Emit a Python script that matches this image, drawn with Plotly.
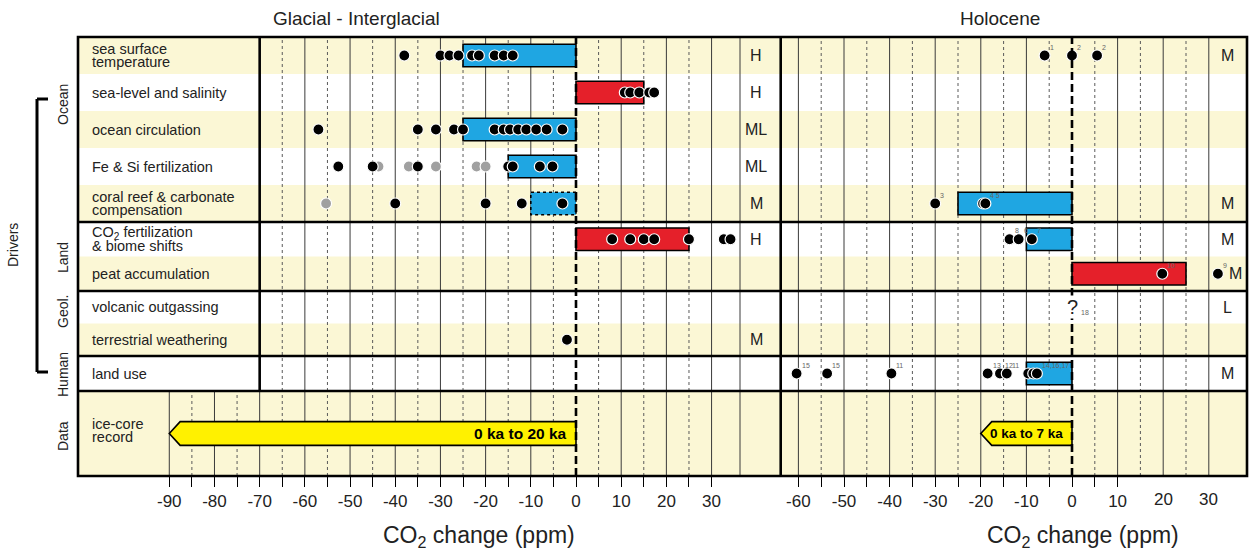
import plotly.graph_objects as go

W, H = 1249, 554
FONT = "Liberation Sans, Arial, Helvetica, sans-serif"

# ---------------- data ----------------
rows = ["sea surface temperature", "sea-level and salinity", "ocean circulation",
        "Fe & Si fertilization", "coral reef & carbonate compensation",
        "CO2 fertilization & biome shifts", "peat accumulation",
        "volcanic outgassing", "terrestrial weathering", "land use"]
row_text = [["sea surface", "temperature"], ["sea-level and salinity"], ["ocean circulation"],
            ["Fe & Si fertilization"], ["coral reef & carbonate", "compensation"],
            ["CO<sub>2</sub> fertilization", "& biome shifts"], ["peat accumulation"],
            ["volcanic outgassing"], ["terrestrial weathering"], ["land use"]]
row_group = ["Ocean"] * 5 + ["Land"] * 2 + ["Geol."] * 2 + ["Human"]
group_names = ["Ocean", "Land", "Geol.", "Human"]

# Glacial - Interglacial
gi_bar_rows = ["sea surface temperature", "sea-level and salinity", "ocean circulation",
               "Fe & Si fertilization", "coral reef & carbonate compensation",
               "CO2 fertilization & biome shifts"]
gi_bar_vals = [-25, 15, -25, -15, -10, 25]
gi_bar_dashed = [False, False, False, False, True, False]

gi_black = {
    "sea surface temperature": [-38, -30, -28, -26, -23, -21.5, -18, -16, -14],
    "sea-level and salinity": [10.8, 12, 14, 16.2, 17.3],
    "ocean circulation": [-57, -35, -31, -27, -25, -18, -16, -14.6, -12.8, -11, -8.8, -6.5, -3],
    "Fe & Si fertilization": [-52.6, -45, -35, -15, -14, -8, -5.2],
    "coral reef & carbonate compensation": [-40, -20, -12, -3],
    "CO2 fertilization & biome shifts": [8, 12, 15, 17.3, 25, 32.7, 34.2],
    "terrestrial weathering": [-2],
}
gi_grey = {
    "Fe & Si fertilization": [-43.7, -37, -31, -22, -20],
    "coral reef & carbonate compensation": [-55.3],
}
gi_conf = ["H", "H", "ML", "ML", "M", "H", "", "", "M", ""]

# Holocene
hol_bar_rows = ["coral reef & carbonate compensation", "CO2 fertilization & biome shifts",
                "peat accumulation", "land use"]
hol_bar_vals = [-25, -10, 25, -10]
hol_pts = {
    "sea surface temperature": ([-6, 0, 5.5], ["1", "2", "2"]),
    "coral reef & carbonate compensation": ([-30, -19.5, -19], ["3", "", "4 5"]),
    "CO2 fertilization & biome shifts": ([-13.7, -11.7, -8.8], ["8", "6", "7"]),
    "peat accumulation": ([19.8, 32], ["10", "9"]),
    "land use": ([-60.4, -53.7, -39.6, -18.5, -15.8, -14.3, -9.6, -8.5, -7.7],
                 ["15", "15", "11", "13", "12", "11", "", "", "14,16,17"]),
}
hol_unknown = {"volcanic outgassing": "18"}
hol_conf = ["M", "", "", "", "M", "M", "M", "L", "", "M"]

# ice-core record
ice_vals = [-90, -20]
ice_text = ["0 ka to 20 ka", "0 ka to 7 ka"]

left_ticks = list(range(-90, 31, 5))
right_ticks = list(range(-60, 11, 5))
right_extra_labels = [20, 30]

# ---------------- geometry / styles ----------------
def px(xp):
    return xp / W

def py(yp):
    return 1 - yp / H

L0, LS = 576.0, 4.519      # left panel: pixel of 0 ppm, px per ppm
R0, RS = 1072.0, 4.56      # right panel
FX0, FX1, MIDX = 78.0, 1247.0, 780.7
TOP, BOT = 37.0, 476.0
grp_px = {"Ocean": (37, 222), "Land": (222, 291), "Geol.": (291, 356), "Human": (356, 391)}
DATA_PX = (391, 476)
yax = {"Ocean": "y", "Land": "y2", "Geol.": "y3", "Human": "y4"}
YELLOW = "#FBF7D5"
BLUE = "#1FA6E2"
RED = "#E5202A"
BAR_PX = 22.5
TXT = "#222"
TICKFS = 17

def row_pos(r):
    g = row_group[rows.index(r)]
    members = [rr for rr, gg in zip(rows, row_group) if gg == g]
    return yax[g], members.index(r), g

def bar_w(g):
    n = row_group.count(g)
    return BAR_PX / ((grp_px[g][1] - grp_px[g][0]) / n)

def anno(**kw):
    d = dict(showarrow=False, xanchor="center", yanchor="middle")
    d.update(kw)
    annos.append(d)

fig = go.Figure()
shapes, annos = [], []

# stripes
for i, r in enumerate(rows):
    ax, idx, g = row_pos(r)
    if i % 2 == 0:
        shapes.append(dict(type="rect", xref="paper", yref=ax, x0=px(FX0), x1=px(FX1),
                           y0=idx - 0.5, y1=idx + 0.5, fillcolor=YELLOW, line_width=0, layer="below"))
shapes.append(dict(type="rect", xref="paper", yref="paper", x0=px(FX0), x1=px(FX1),
                   y0=py(DATA_PX[1]), y1=py(DATA_PX[0]), fillcolor=YELLOW, line_width=0, layer="below"))

# vertical grid lines
def vline(xr, v, y0p, y1p, solid):
    shapes.append(dict(type="line", xref=xr, yref="paper", x0=v, x1=v, y0=py(y1p), y1=py(y0p),
                       line=dict(color="#3a3a3a" if solid else "#5a5a5a", width=1,
                                 dash="solid" if solid else "dot"), layer="below"))

for v in range(-65, 31, 5):
    if v != 0:
        vline("x", v, TOP, DATA_PX[0], v % 10 == 0)
for v in range(-90, 31, 5):
    if v != 0:
        vline("x", v, DATA_PX[0], BOT, v % 10 == 0)
for v in range(-60, 31, 5):
    if v != 0:
        vline("x2", v, TOP, BOT, v % 10 == 0)
# confidence column divider (left)
shapes.append(dict(type="line", xref="paper", yref="paper", x0=px(740), x1=px(740),
                   y0=py(BOT), y1=py(TOP), line=dict(color="#3a3a3a", width=1), layer="below"))

# bars
for r, v, d in zip(gi_bar_rows, gi_bar_vals, gi_bar_dashed):
    ax, idx, g = row_pos(r)
    w = bar_w(g)
    fig.add_trace(go.Bar(x=[v], y=[idx], base=0, orientation="h", width=w,
                         marker=dict(color=BLUE if v < 0 else RED,
                                     line=dict(color="black", width=0 if d else 1.6)),
                         xaxis="x", yaxis=ax, showlegend=False, hoverinfo="skip"))
    if d:
        shapes.append(dict(type="rect", xref="x", yref=ax, x0=0, x1=v, y0=idx - w / 2, y1=idx + w / 2,
                           line=dict(color="black", width=1.6, dash="dot"), layer="above"))
for r, v in zip(hol_bar_rows, hol_bar_vals):
    ax, idx, g = row_pos(r)
    fig.add_trace(go.Bar(x=[v], y=[idx], base=0, orientation="h", width=bar_w(g),
                         marker=dict(color=BLUE if v < 0 else RED, line=dict(color="black", width=1.6)),
                         xaxis="x2", yaxis=ax, showlegend=False, hoverinfo="skip"))

# points
MK = 11
for r, vals in gi_grey.items():
    ax, idx, g = row_pos(r)
    fig.add_trace(go.Scatter(x=vals, y=[idx] * len(vals), mode="markers",
                             marker=dict(size=MK, color="#a0a0a0", line=dict(color="white", width=1.2)),
                             xaxis="x", yaxis=ax, showlegend=False, hoverinfo="skip"))
for r, vals in gi_black.items():
    ax, idx, g = row_pos(r)
    fig.add_trace(go.Scatter(x=vals, y=[idx] * len(vals), mode="markers",
                             marker=dict(size=MK, color="black", line=dict(color="white", width=1.2)),
                             xaxis="x", yaxis=ax, showlegend=False, hoverinfo="skip"))
for r, (vals, labs) in hol_pts.items():
    ax, idx, g = row_pos(r)
    fig.add_trace(go.Scatter(x=vals, y=[idx] * len(vals), mode="markers",
                             marker=dict(size=MK, color="black", line=dict(color="white", width=1.2)),
                             xaxis="x2", yaxis=ax, showlegend=False, hoverinfo="skip"))
    for v, lab in zip(vals, labs):
        if lab:
            anno(xref="x2", yref=ax, x=v, y=idx, text=lab, xanchor="left", yanchor="bottom",
                 xshift=3, yshift=3, font=dict(size=7, color="#666", family=FONT))
for r, lab in hol_unknown.items():
    ax, idx, g = row_pos(r)
    anno(xref="x2", yref=ax, x=0, y=idx, text="?", bgcolor="white", borderpad=0,
         font=dict(size=20, color=TXT, family=FONT))
    anno(xref="x2", yref=ax, x=0, y=idx, text=lab, xanchor="left", xshift=7, yshift=-5,
         font=dict(size=7, color="#666", family=FONT))

# ice-core arrows
TIP = 2.4
HH = 0.14
for xa, v, t, fs in zip(["x", "x2"], ice_vals, ice_text, [15.5, 13.5]):
    xs = [0, v + TIP, v, v + TIP, 0, 0]
    ys = [HH, HH, 0, -HH, -HH, HH]
    fig.add_trace(go.Scatter(x=xs, y=ys, mode="lines", fill="toself", fillcolor="#FFF100",
                             line=dict(color="black", width=1.6), xaxis=xa, yaxis="y5",
                             showlegend=False, hoverinfo="skip"))
    anno(xref=xa, yref="y5", x=0, y=0, text="<b>%s</b>" % t, xanchor="right", xshift=-7,
         font=dict(size=fs, color="black", family=FONT))

# confidence letters
for i, r in enumerate(rows):
    ax, idx, g = row_pos(r)
    if gi_conf[i]:
        anno(xref="paper", yref=ax, x=px(756), y=idx, text=gi_conf[i],
             font=dict(size=16, color=TXT, family=FONT))
    if hol_conf[i]:
        shift = 8 if (r in hol_pts and max(hol_pts[r][0]) > 30) else 0
        anno(xref="paper", yref=ax, x=px(1227), y=idx, text=hol_conf[i], xshift=shift,
             font=dict(size=16, color=TXT, family=FONT))

# row labels
for i, r in enumerate(rows):
    ax, idx, g = row_pos(r)
    lines = row_text[i]
    n = len(lines)
    for k, ln in enumerate(lines):
        ys = (n - 1) * 6.5 - k * 13
        anno(xref="paper", yref=ax, x=px(90), y=idx, text=ln, xanchor="left", yshift=ys,
             font=dict(size=14.5, color=TXT, family=FONT))
for k, ln in enumerate(["ice-core", "record"]):
    anno(xref="paper", yref="y5", x=px(90), y=0, text=ln, xanchor="left", yshift=10 - k * 13,
         font=dict(size=14.5, color=TXT, family=FONT))

# group labels
grp_label_y = {"Ocean": 105, "Land": 258, "Geol.": 312, "Human": 375}
for g in group_names:
    anno(xref="paper", yref="paper", x=px(63), y=py(grp_label_y[g]), text=g, textangle=-90,
         font=dict(size=14, color=TXT, family=FONT))
anno(xref="paper", yref="paper", x=px(63), y=py(436), text="Data", textangle=-90,
     font=dict(size=14, color=TXT, family=FONT))
anno(xref="paper", yref="paper", x=px(13), y=py(245), text="Drivers", textangle=-90,
     font=dict(size=14, color=TXT, family=FONT))
# bracket
for (a, b, c, d) in [(48, 99, 37, 99), (37, 99, 37, 372), (37, 372, 48, 372)]:
    shapes.append(dict(type="line", xref="paper", yref="paper", x0=px(a), y0=py(b), x1=px(c), y1=py(d),
                       line=dict(color="black", width=3)))

# panel titles and axis titles
anno(xref="paper", yref="paper", x=px(356), y=py(18), text="Glacial - Interglacial",
     font=dict(size=19, color=TXT, family=FONT))
anno(xref="paper", yref="paper", x=px(1000), y=py(18), text="Holocene",
     font=dict(size=19, color=TXT, family=FONT))
for xc in [479, 1083]:
    anno(xref="paper", yref="paper", x=px(xc), y=py(536), text="CO<sub>2</sub> change (ppm)",
         font=dict(size=23, color=TXT, family=FONT))

# frame lines
TH = 2.6
def pline(x0, y0, x1, y1, w=TH):
    shapes.append(dict(type="line", xref="paper", yref="paper", x0=px(x0), y0=py(y0), x1=px(x1), y1=py(y1),
                       line=dict(color="black", width=w), layer="above"))
for yb in [222, 291, 356, 391]:
    pline(FX0, yb, FX1, yb)
shapes.append(dict(type="line", xref="x", yref="paper", x0=-70, x1=-70, y0=py(DATA_PX[0]), y1=py(TOP),
                   line=dict(color="black", width=TH), layer="above"))
pline(MIDX, TOP, MIDX, BOT)
shapes.append(dict(type="rect", xref="paper", yref="paper", x0=px(FX0), x1=px(FX1), y0=py(BOT), y1=py(TOP),
                   line=dict(color="black", width=TH), layer="above"))
for xa in ["x", "x2"]:
    shapes.append(dict(type="line", xref=xa, yref="paper", x0=0, x1=0, y0=py(BOT), y1=py(TOP),
                       line=dict(color="black", width=2.6, dash="8px,4px"), layer="above"))

# axes
lrange = [(FX0 - L0) / LS, (MIDX - L0) / LS]
rrange = [(MIDX - R0) / RS, (FX1 - R0) / RS]
common_x = dict(showgrid=False, zeroline=False, showline=False, ticks="outside", ticklen=10,
                tickwidth=1.2, tickcolor="black", tickfont=dict(size=TICKFS, color=TXT, family=FONT),
                fixedrange=True)
layout_axes = dict(
    xaxis=dict(domain=[px(FX0), px(MIDX)], range=lrange, anchor="y5", tickvals=left_ticks,
               ticktext=[str(v) if v % 10 == 0 else "" for v in left_ticks], **common_x),
    xaxis2=dict(domain=[px(MIDX), px(FX1)], range=rrange, anchor="y5", tickvals=right_ticks,
                ticktext=[str(v) if v % 10 == 0 else "" for v in right_ticks], **common_x),
)
for i, g in enumerate(group_names):
    n = row_group.count(g)
    key = "yaxis" if i == 0 else "yaxis%d" % (i + 1)
    layout_axes[key] = dict(domain=[py(grp_px[g][1]), py(grp_px[g][0])], range=[n - 0.5, -0.5],
                            visible=False, anchor="x", fixedrange=True)
layout_axes["yaxis5"] = dict(domain=[py(DATA_PX[1]), py(DATA_PX[0])], range=[-0.5, 0.5],
                             visible=False, anchor="x", fixedrange=True)

# extra right-panel labels (no tick marks in the original)
for v in right_extra_labels:
    anno(xref="x2", yref="paper", x=v, y=py(500), text=str(v),
         font=dict(size=TICKFS, color=TXT, family=FONT))

fig.update_layout(width=W, height=H, margin=dict(l=0, r=0, t=0, b=0),
                  paper_bgcolor="white", plot_bgcolor="rgba(0,0,0,0)", barmode="overlay",
                  shapes=shapes, annotations=annos, showlegend=False,
                  font=dict(family=FONT), **layout_axes)

fig.write_html("out.html")
